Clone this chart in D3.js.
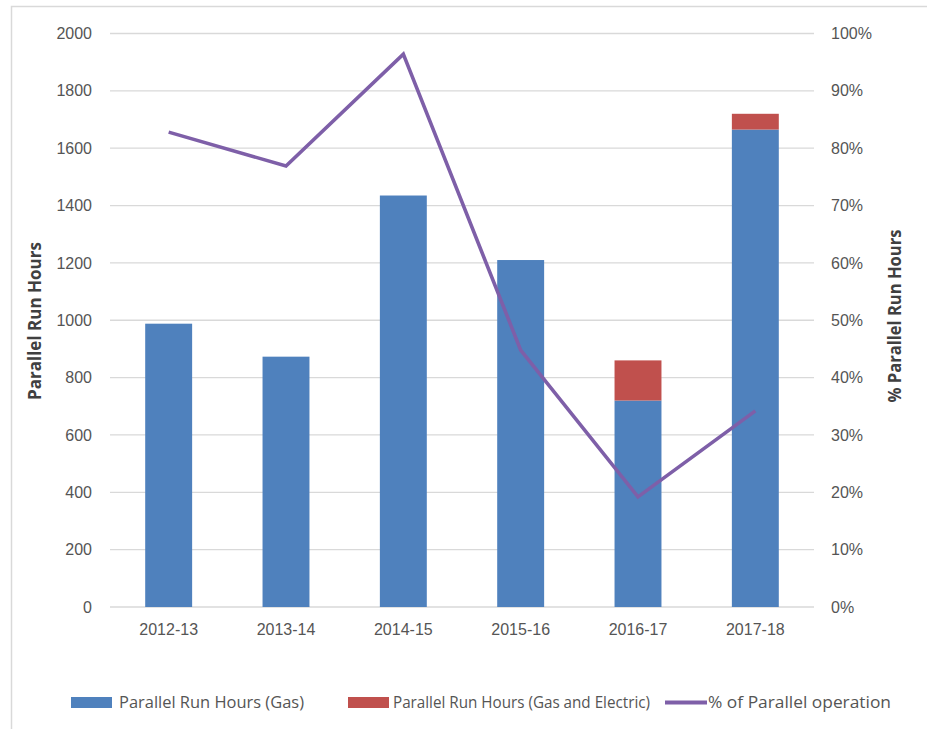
<!DOCTYPE html>
<html>
<head>
<meta charset="utf-8">
<script src="https://cdn.jsdelivr.net/npm/d3@7"></script>
<style>
  html, body { margin: 0; padding: 0; background: #ffffff; }
  svg { display: block; font-family: "Open Sans", sans-serif; }
</style>
</head>
<body>
<svg id="chart" width="927" height="729"></svg>
<script>
// Financial years on the category axis
const years = ["2012-13", "2013-14", "2014-15", "2015-16", "2016-17", "2017-18"];
// Parallel run hours, gas only
const gasHours = [988, 873, 1435, 1210, 720, 1665];
// Additional parallel run hours, gas and electric
const gasElectricHours = [0, 0, 0, 0, 140, 55];
// Share of operation that ran in parallel (fraction)
const parallelShare = [0.828, 0.769, 0.964, 0.448, 0.192, 0.342];

const leftTicks = [0, 200, 400, 600, 800, 1000, 1200, 1400, 1600, 1800, 2000];
const rightTicks = [0, 0.1, 0.2, 0.3, 0.4, 0.5, 0.6, 0.7, 0.8, 0.9, 1.0];

const seriesNames = ["Parallel Run Hours (Gas)", "Parallel Run Hours (Gas and Electric)", "% of Parallel operation"];
const colors = { gas: "#4f81bd", elec: "#c0504d", line: "#7e5fa8" };

const svg = d3.select("#chart");

// outer frame
svg.append("rect")
  .attr("x", 11.5).attr("y", 6.5)
  .attr("width", 940).attr("height", 740)
  .attr("fill", "none").attr("stroke", "#d9d9d9").attr("stroke-width", 1.5);

const plot = { left: 110, right: 814, top: 33.5, bottom: 607 };

const x = d3.scaleBand().domain(years)
  .range([plot.left, plot.right]).paddingInner(0.6).paddingOuter(0.3);
const y = d3.scaleLinear().domain([0, 2000]).range([plot.bottom, plot.top]);
const y2 = d3.scaleLinear().domain([0, 1]).range([plot.bottom, plot.top]);

// gridlines
svg.append("g").selectAll("line").data(leftTicks).join("line")
  .attr("x1", plot.left).attr("x2", plot.right)
  .attr("y1", d => y(d)).attr("y2", d => y(d))
  .attr("stroke", "#d9d9d9").attr("stroke-width", 1.3);

// left axis
const leftAxis = svg.append("g")
  .attr("transform", `translate(${plot.left},0)`)
  .call(d3.axisLeft(y).tickValues(leftTicks).tickSize(0).tickPadding(18).tickFormat(d3.format("d")));
leftAxis.select(".domain").remove();
leftAxis.selectAll("text").attr("fill", "#555555").style("font-size", "16px");

// right axis
const rightAxis = svg.append("g")
  .attr("transform", `translate(${plot.right},0)`)
  .call(d3.axisRight(y2).tickValues(rightTicks).tickSize(0).tickPadding(17).tickFormat(d3.format(".0%")));
rightAxis.select(".domain").remove();
rightAxis.selectAll("text").attr("fill", "#555555").style("font-size", "16px");

// category axis
const bottomAxis = svg.append("g")
  .attr("transform", `translate(0,${plot.bottom})`)
  .call(d3.axisBottom(x).tickSize(0).tickPadding(17));
bottomAxis.select(".domain").remove();
bottomAxis.selectAll("text").attr("fill", "#555555").style("font-size", "16px");

// stacked bars
const rows = years.map((yr, i) => ({ year: yr, gas: gasHours[i], elec: gasElectricHours[i] }));
const stacked = d3.stack().keys(["gas", "elec"])(rows);
svg.append("g").selectAll("g").data(stacked).join("g")
  .attr("fill", d => colors[d.key])
  .selectAll("rect").data(d => d).join("rect")
  .attr("x", d => x(d.data.year))
  .attr("width", x.bandwidth())
  .attr("y", d => y(d[1]))
  .attr("height", d => y(d[0]) - y(d[1]));

// share line
const line = d3.line()
  .x((d, i) => x(years[i]) + x.bandwidth() / 2)
  .y(d => y2(d));
svg.append("path").datum(parallelShare)
  .attr("d", line)
  .attr("fill", "none")
  .attr("stroke", colors.line)
  .attr("stroke-width", 3.6)
  .attr("stroke-linejoin", "miter");

// axis titles
svg.append("text")
  .attr("transform", `translate(41,${321}) rotate(-90)`)
  .attr("text-anchor", "middle")
  .attr("fill", "#404040").style("font-size", "17px").style("font-weight", "bold")
  .attr("textLength", 158).attr("lengthAdjust", "spacingAndGlyphs")
  .text("Parallel Run Hours");
svg.append("text")
  .attr("transform", `translate(901,${316}) rotate(-90)`)
  .attr("text-anchor", "middle")
  .attr("fill", "#404040").style("font-size", "17px").style("font-weight", "bold")
  .attr("textLength", 173).attr("lengthAdjust", "spacingAndGlyphs")
  .text("% Parallel Run Hours");

// legend
const legendY = 702.5;
const legend = svg.append("g");
const items = [
  { name: seriesNames[0], type: "rect", color: colors.gas, x: 71, tx: 119, len: 185 },
  { name: seriesNames[1], type: "rect", color: colors.elec, x: 348, tx: 393, len: 257 },
  { name: seriesNames[2], type: "line", color: colors.line, x: 665, tx: 708, len: 183 }
];
items.forEach(it => {
  if (it.type === "rect") {
    legend.append("rect").attr("x", it.x).attr("y", legendY - 5.5)
      .attr("width", 41).attr("height", 11).attr("fill", it.color);
  } else {
    legend.append("line").attr("x1", it.x).attr("x2", it.x + 42)
      .attr("y1", legendY).attr("y2", legendY)
      .attr("stroke", it.color).attr("stroke-width", 4);
  }
  legend.append("text").attr("x", it.tx).attr("y", legendY)
    .attr("dy", "0.35em").attr("fill", "#555555").style("font-size", "16px")
    .attr("textLength", it.len).attr("lengthAdjust", "spacingAndGlyphs")
    .text(it.name);
});
</script>
</body>
</html>
